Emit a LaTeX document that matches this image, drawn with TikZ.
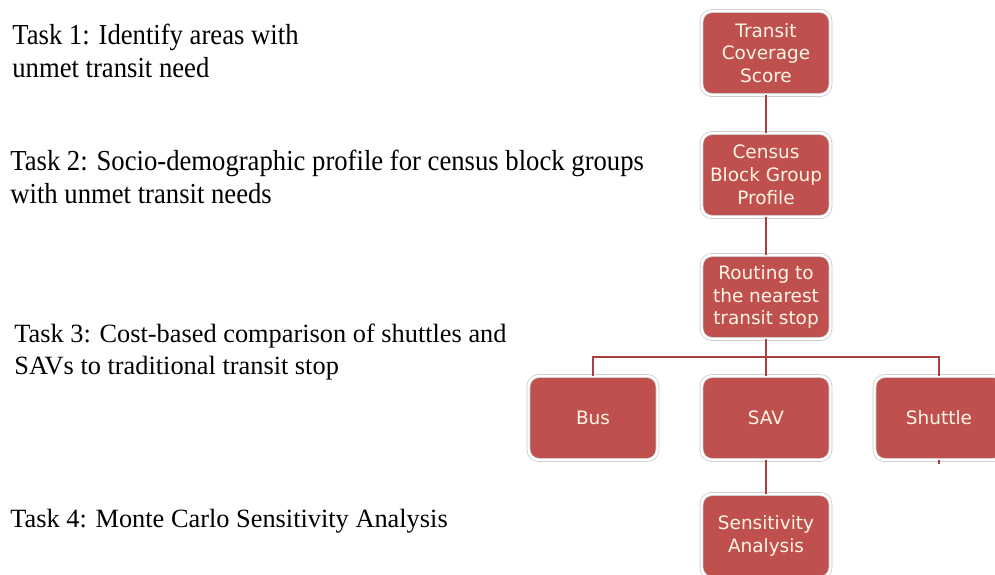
\documentclass[tikz,border=0pt]{standalone}
\usepackage{fontspec}
\setmainfont{Liberation Serif}
\newfontfamily\narrowfont[FakeStretch=0.92]{Liberation Serif}
\newfontfamily\boxfont{DejaVu Sans}
\definecolor{boxred}{HTML}{C0504D}
\definecolor{linered}{HTML}{A8403E}
\definecolor{boxtext}{HTML}{FFF6E8}
\tikzset{
	stagebox/.style={draw=black!22, double=white, double distance=1.4pt, fill=boxred,
		rounded corners=6pt, minimum width=2.58cm, minimum height=1.68cm,
		align=center, text=boxtext, font=\boxfont\fontsize{10.5}{13}\selectfont},
	tasktext/.style={anchor=west, align=left, inner sep=0pt,
		font=\fontsize{15}{18.7}\selectfont},
	narrowtask/.style={tasktext, font=\narrowfont\fontsize{16.5}{18.7}\selectfont},
	link/.style={draw=linered, line width=1.3pt}
}
\begin{document}
\begin{tikzpicture}[x=0.02cm, y=-0.02cm]
		%%%%% START %%%%%
		\clip (0, 0) rectangle (995, 575);
		
		% tasks on the left
		\node[narrowtask] (task1) at (12, 51) {Task 1: Identify areas with\\unmet transit need};
		\node[narrowtask] (task2) at (10, 177) {Task 2: Socio-demographic profile for census block groups\\with unmet transit needs};
		\node[tasktext] (task3) at (14, 352) {Task 3: Cost-based comparison of shuttles and\\SAVs to traditional transit stop};
		\node[tasktext] (task4) at (10, 521) {Task 4: Monte Carlo Sensitivity Analysis};
		
		% boxes
		\node[stagebox] (coverage) at (766, 53) {Transit\\Coverage\\Score};
		\node[stagebox] (profile) at (766, 175) {Census\\Block Group\\Profile};
		\node[stagebox] (routing) at (766, 297) {Routing to\\the nearest\\transit stop};
		\node[stagebox] (bus) at (593, 418) {Bus};
		\node[stagebox] (sav) at (766, 418) {SAV};
		\node[stagebox] (shuttle) at (939, 418) {Shuttle};
		\node[stagebox] (sensitivity) at (766, 536) {Sensitivity\\Analysis};
		
		% links
		\coordinate (fork) at (766, 357);
		\coordinate (stub) at (939, 464);
		\draw[link] (coverage) -- (profile);
		\draw[link] (profile) -- (routing);
		\draw[link] (routing) -- (fork);
		\draw[link] (fork) -| (bus);
		\draw[link] (fork) -| (shuttle);
		\draw[link] (fork) -- (sav);
		\draw[link] (sav) -- (sensitivity);
		\draw[link] (shuttle.south) -- (stub);
		
		%%%%% END %%%%%
	\end{tikzpicture}
\end{document}
